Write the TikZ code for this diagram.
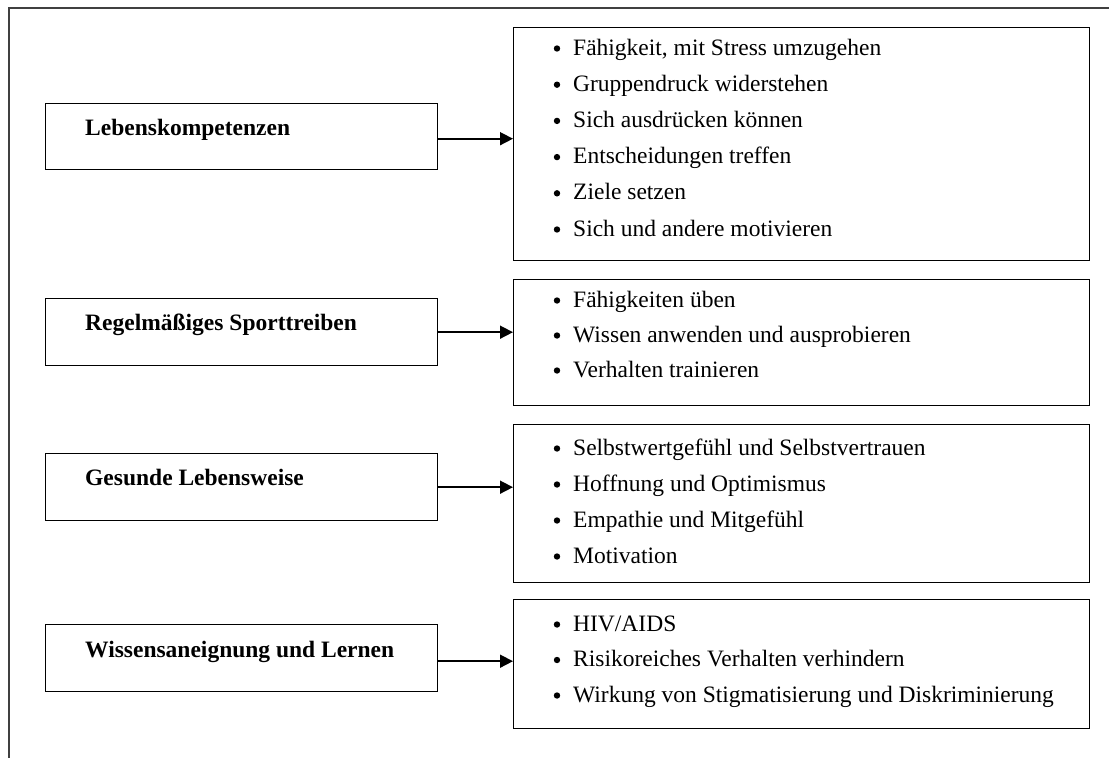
\documentclass[tikz,border=0pt]{standalone}
\usepackage{fontspec}
\setmainfont{Liberation Serif}
\usetikzlibrary{arrows.meta}
\begin{document}
\begin{tikzpicture}[x=1pt,y=-1pt,
  box/.style={draw, line width=1.4pt, inner sep=0pt, anchor=north west},
  lab/.style={anchor=base west, inner sep=0pt, font=\bfseries\fontsize{23.5}{28}\selectfont},
  item/.style={anchor=base west, inner sep=0pt, font=\fontsize{23.5}{28}\selectfont},
  dot/.style={circle, fill, inner sep=0pt, minimum size=6.4pt},
  arr/.style={line width=1.6pt, -{Triangle[length=13pt,width=13pt]}},
  frame/.style={draw=black!75, line width=1.2pt}]
\useasboundingbox (0,0) rectangle (1109,758);
% outer frame (top and left edges)
\coordinate (fa) at (1109,8);
\coordinate (fb) at (9,8);
\coordinate (fc) at (9,758);
\draw[frame] (fa) -- (fb) -- (fc);

% left boxes
\node[box, minimum width=392pt, minimum height=66pt] (L1) at (45,103) {};
\node[box, minimum width=392pt, minimum height=67pt] (L2) at (45,298) {};
\node[box, minimum width=392pt, minimum height=67pt] (L3) at (45,453) {};
\node[box, minimum width=392pt, minimum height=67pt] (L4) at (45,624) {};
\node[lab] (t1) at (85,135) {Lebenskompetenzen};
\node[lab] (t2) at (85,330) {Regelmäßiges Sporttreiben};
\node[lab] (t3) at (85,485) {Gesunde Lebensweise};
\node[lab] (t4) at (85,657) {Wissensaneignung und Lernen};

% right boxes
\node[box, minimum width=576pt, minimum height=233pt] (R1) at (513,27) {};
\node[box, minimum width=576pt, minimum height=126pt] (R2) at (513,279) {};
\node[box, minimum width=576pt, minimum height=158pt] (R3) at (513,424) {};
\node[box, minimum width=576pt, minimum height=129pt] (R4) at (513,599) {};

% bullet lists
\foreach \t [count=\i] in {{Fähigkeit, mit Stress umzugehen},{Gruppendruck widerstehen},{Sich ausdrücken können},{Entscheidungen treffen},{Ziele setzen},{Sich und andere motivieren}}{
  \node[dot] (ba\i) at (557,{55+36.2*(\i-1)-6.5}) {};
  \node[item] (ia\i) at (573,{55+36.2*(\i-1)}) {\t};
}
\foreach \t [count=\i] in {{Fähigkeiten üben},{Wissen anwenden und ausprobieren},{Verhalten trainieren}}{
  \node[dot] (bb\i) at (557,{307+35*(\i-1)-6.5}) {};
  \node[item] (ib\i) at (573,{307+35*(\i-1)}) {\t};
}
\foreach \t [count=\i] in {{Selbstwertgefühl und Selbstvertrauen},{Hoffnung und Optimismus},{Empathie und Mitgefühl},{Motivation}}{
  \node[dot] (bc\i) at (557,{455+36*(\i-1)-6.5}) {};
  \node[item] (ic\i) at (573,{455+36*(\i-1)}) {\t};
}
\foreach \t [count=\i] in {{HIV/AIDS},{Risikoreiches Verhalten verhindern},{Wirkung von Stigmatisierung und Diskriminierung}}{
  \node[dot] (bd\i) at (557,{631+35.5*(\i-1)-6.5}) {};
  \node[item] (id\i) at (573,{631+35.5*(\i-1)}) {\t};
}

% connectors
\draw[arr] ([yshift=-2pt]L1.east) -- ([yshift=-2pt]L1.east -| R1.west);
\draw[arr] (L2.east) -- (L2.east -| R2.west);
\draw[arr] (L3.east) -- (L3.east -| R3.west);
\draw[arr] ([yshift=-3pt]L4.east) -- ([yshift=-3pt]L4.east -| R4.west);
\end{tikzpicture}
\end{document}
